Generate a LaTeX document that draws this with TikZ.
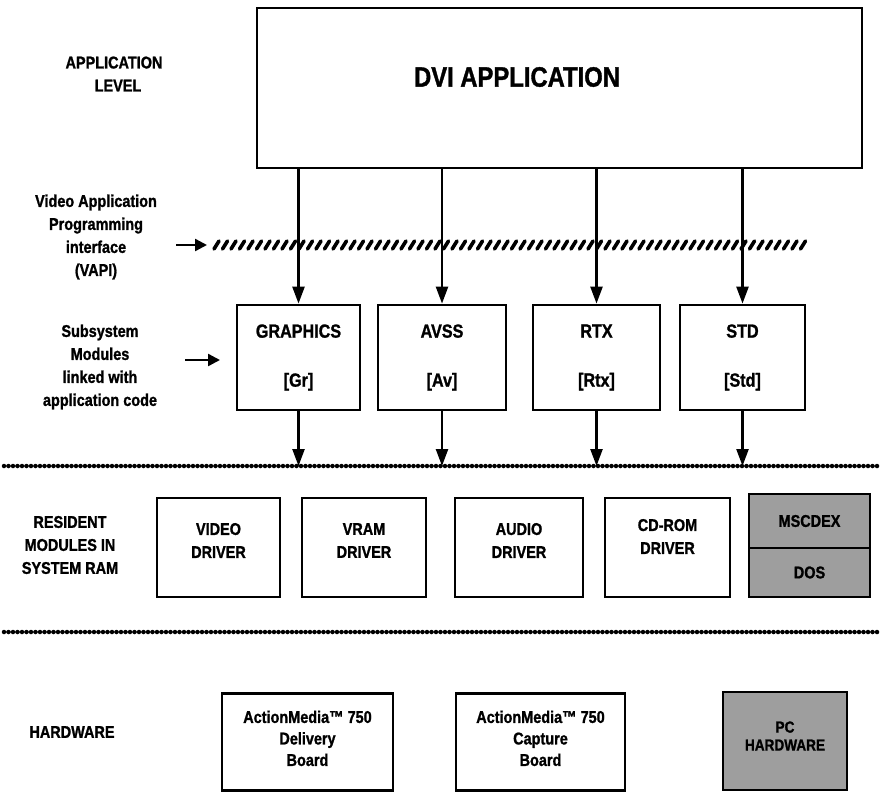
\documentclass[tikz,border=0pt]{standalone}
\usepackage{fontspec}
\setmainfont{Liberation Sans}
\newfontfamily\cnd[FakeStretch=0.85, BoldFeatures={FakeBold=1.2}]{Liberation Sans}
\usetikzlibrary{arrows.meta}
\tikzset{
  box/.style={draw, line width=2.8pt, inner sep=0pt, align=center, fill=white,
    font=\cnd\bfseries\fontsize{17}{23}\selectfont},
  modbox/.style={box, minimum height=105pt, font=\cnd\bfseries\fontsize{19}{23}\selectfont},
  resbox/.style={box, minimum height=99pt},
  hwbox/.style={box, minimum height=97pt, font=\cnd\bfseries\fontsize{17}{21.5}\selectfont},
  graybox/.style={box, fill=black!38},
  lbl/.style={align=center, inner sep=0pt, font=\cnd\bfseries\fontsize{17}{23}\selectfont},
  arr/.style={line width=2.4pt, -{Triangle[length=17pt,width=12pt]}},
  sidearr/.style={line width=2.4pt, -{Triangle[length=12pt,width=12pt]}},
  dotline/.style={line width=4.5pt, line cap=round, dash pattern=on 0pt off 4.5pt},
}
\begin{document}
\begin{tikzpicture}[x=1pt,y=-1pt]
\fill[white] (0,0) rectangle (882,795);
\useasboundingbox (0,0) rectangle (882,795);

% application level
\node[box, minimum width=605pt, minimum height=160pt] (dvi) at (559.5,88) {};
\node[lbl, font=\cnd\bfseries\fontsize{28}{32}\selectfont] (dvit) at (517,77) {DVI APPLICATION};
\node[lbl] (applevel) at (114,74) {APPLICATION\\\hspace*{8pt}LEVEL};

% VAPI line
\node[lbl] (vapi) at (96,237) {Video Application\\Programming\\interface\\(VAPI)};
\coordinate (h0) at (176,245);
\coordinate (h1) at (207,245);
\draw[sidearr] (h0) -- (h1);
\foreach \x in {214,222.5,...,806} {
  \draw[line width=3.6pt, line cap=round] (\x,249) -- (\x+5,241);
}

% subsystem modules
\node[lbl] (sub) at (100,367) {Subsystem\\Modules\\linked with\\application code};
\coordinate (s0) at (185,360);
\coordinate (s1) at (220,360);
\draw[sidearr] (s0) -- (s1);

\node[modbox, minimum width=123pt] (gr) at (298.5,357.5) {GRAPHICS\\[26pt]{[Gr]}};
\node[modbox, minimum width=128pt] (av) at (442,357.5) {AVSS\\[26pt]{[Av]}};
\node[modbox, minimum width=127pt] (rtx) at (596.5,357.5) {RTX\\[26pt]{[Rtx]}};
\node[modbox, minimum width=125pt] (std) at (742.5,357.5) {STD\\[26pt]{[Std]}};

\foreach \m in {gr,av,rtx,std} {
  \draw[arr] (dvi.south -| \m.north) -- (\m.north);
}

% first dotted line
\coordinate (d1l) at (4,466);
\coordinate (d1r) at (880,466);
\draw[dotline] (d1l) -- (d1r);
\foreach \m in {gr,av,rtx,std} {
  \draw[arr] (\m.south) -- (\m.south |- d1l);
}

% resident modules
\node[lbl] (res) at (70,545) {RESIDENT\\MODULES IN\\SYSTEM RAM};
\node[resbox, minimum width=123pt] (vid) at (218.5,547.5) {VIDEO\\DRIVER\\[-9pt]};
\node[resbox, minimum width=124pt] (vram) at (364,547.5) {VRAM\\DRIVER\\[-9pt]};
\node[resbox, minimum width=128pt] (aud) at (519,547.5) {AUDIO\\DRIVER\\[-9pt]};
\node[resbox, minimum width=125pt] (cdr) at (667.5,547.5) {CD-ROM\\DRIVER\\[-1pt]};
\node[graybox, minimum width=121pt, minimum height=54pt] (msc) at (809.5,521) {MSCDEX};
\node[graybox, minimum width=121pt, minimum height=49pt] (dos) at (809.5,572.5) {DOS};

% second dotted line
\coordinate (d2l) at (4,632);
\coordinate (d2r) at (880,632);
\draw[dotline] (d2l) -- (d2r);

% hardware
\node[lbl] (hw) at (72,732) {HARDWARE};
\node[hwbox, minimum width=171pt] (del) at (307.5,742) {ActionMedia™ 750\\Delivery\\Board\\[-14pt]};
\node[hwbox, minimum width=169pt] (capb) at (540.5,742) {ActionMedia™ 750\\Capture\\Board\\[-14pt]};
\node[graybox, minimum width=124pt, minimum height=98pt, font=\cnd\bfseries\fontsize{16}{18}\selectfont] (pc) at (785,741) {PC\\HARDWARE\\[-8pt]};
\end{tikzpicture}
\end{document}
